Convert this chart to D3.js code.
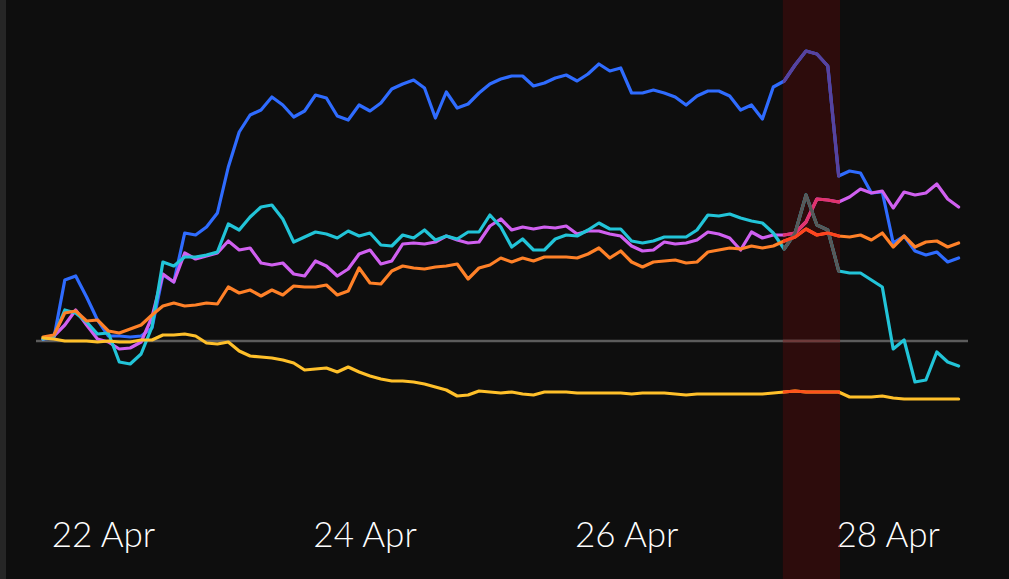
<!DOCTYPE html>
<html>
<head>
<meta charset="utf-8">
<script src="https://cdn.jsdelivr.net/npm/d3@7"></script>
<style>
  html, body { margin: 0; padding: 0; background: #0e0e0e; }
  #chart { width: 1009px; height: 579px; }
</style>
</head>
<body>
<div id="chart"></div>
<script>
// values every 2 hours, starting 21 Apr 13:00 (percent change)
const startTime = new Date(2023, 3, 21, 13);
const stepHours = 2;

const blue = [0.2,0.3,6.1,6.5,4.4,2.1,0.5,0.5,0.4,0.5,1.3,6.6,5.9,10.8,10.6,11.4,12.8,17.4,20.9,22.6,
  23.1,24.4,23.6,22.4,23.0,24.6,24.3,22.5,22.1,23.6,23.0,23.8,25.2,25.7,26.1,25.3,22.3,24.9,23.3,23.7,
  24.8,25.7,26.2,26.5,26.5,25.5,25.8,26.3,26.6,26.0,26.7,27.7,27.0,27.3,24.8,24.8,25.1,24.8,24.4,23.6,
  24.5,25.0,25.0,24.5,23.1,23.6,22.2,25.4,26.0,27.6,29.0,28.7,27.5,16.5,17.0,16.8,14.8,14.9,9.8,10.5,
  9.0,8.6,8.9,7.9,8.3];
const cyan = [0.2,0.5,3.1,2.8,1.9,0.7,0.8,-2.1,-2.3,-1.3,1.4,7.9,7.5,8.4,8.4,8.6,8.9,11.7,11.1,12.4,
  13.4,13.6,12.2,9.9,10.4,10.9,10.7,10.3,11.0,10.5,10.8,9.6,9.5,10.6,10.3,11.1,10.1,10.5,10.2,10.9,
  10.9,12.6,11.4,9.4,10.2,9.1,9.1,10.2,10.6,10.5,11.1,11.8,11.2,11.2,10.0,9.8,10.0,10.4,10.4,10.4,
  11.1,12.6,12.5,12.7,12.3,12.0,11.8,10.8,9.2,10.8,14.6,11.6,11.1,7.0,6.8,6.8,6.1,5.4,-0.8,0.1,
  -4.1,-3.9,-1.1,-2.1,-2.5];
const magenta = [0.2,0.5,1.6,3.1,1.6,0.2,-0.1,-0.8,-0.7,-0.1,2.4,6.7,5.9,8.8,8.2,8.5,8.8,10.0,9.1,9.3,
  7.8,7.6,7.8,6.7,6.5,8.0,7.5,6.5,7.2,8.7,9.1,7.7,8.0,9.7,9.8,9.7,9.9,10.5,10.1,9.8,
  9.9,11.5,12.2,11.1,11.4,11.2,11.4,11.3,11.5,10.7,11.0,11.0,10.7,10.5,9.5,9.0,9.1,9.9,9.7,9.8,
  10.1,10.9,10.7,10.3,9.1,10.9,10.3,10.6,10.6,10.8,11.9,14.2,14.1,13.9,14.4,15.2,14.8,15.0,13.3,14.9,
  14.6,14.8,15.7,14.2,13.4];
const orange = [0.4,0.6,2.8,3.0,2.0,2.1,1.0,0.8,1.2,1.6,2.6,3.5,3.8,3.5,3.6,3.8,3.7,5.4,4.8,5.1,
  4.5,5.1,4.6,5.5,5.4,5.4,5.6,4.6,5.0,7.3,5.8,5.7,7.0,7.5,7.3,7.2,7.4,7.5,7.7,6.2,
  7.3,7.6,8.3,7.9,8.3,8.0,8.4,8.4,8.4,8.3,8.7,9.3,8.3,9.0,7.9,7.4,7.9,8.0,8.1,7.8,
  7.9,8.9,9.1,9.3,9.2,9.5,9.3,9.5,10.0,10.4,11.2,10.6,10.8,10.5,10.4,10.6,10.1,10.8,9.4,10.5,
  9.4,9.9,10.0,9.4,9.8];
const yellow = [0.3,0.2,0.0,0.0,0.0,-0.1,0.0,-0.1,-0.1,0.1,0.1,0.6,0.6,0.7,0.5,-0.2,-0.3,-0.1,-1.0,-1.5,
  -1.6,-1.7,-1.9,-2.2,-2.9,-2.8,-2.7,-3.1,-2.6,-3.1,-3.5,-3.8,-4.0,-4.0,-4.1,-4.3,-4.6,-4.9,-5.5,-5.4,
  -5.0,-5.1,-5.2,-5.1,-5.3,-5.4,-5.1,-5.1,-5.1,-5.2,-5.2,-5.2,-5.2,-5.2,-5.3,-5.2,-5.2,-5.2,-5.3,-5.4,
  -5.3,-5.3,-5.3,-5.3,-5.3,-5.3,-5.3,-5.2,-5.1,-5.0,-5.1,-5.1,-5.1,-5.1,-5.6,-5.6,-5.6,-5.5,-5.7,-5.8,
  -5.8,-5.8,-5.8,-5.8,-5.8];

const seriesNames = ["blue", "magenta", "cyan", "orange", "yellow"];
const seriesValues = { blue: blue, magenta: magenta, cyan: cyan, orange: orange, yellow: yellow };
const seriesColors = { blue: "#2f6cff", magenta: "#d060f0", cyan: "#22c4d8", orange: "#ff8128", yellow: "#ffc02a" };
// how the lines look inside the highlighted window
const bandColors = { blue: "#58429f", magenta: "#e2336c", cyan: "#585858", orange: "#ff4320", yellow: "#ff521c" };

const tickDates = [new Date(2023, 3, 22), new Date(2023, 3, 24), new Date(2023, 3, 26), new Date(2023, 3, 28)];
const bandStart = new Date(2023, 3, 27, 4, 45);
const bandEnd = new Date(2023, 3, 27, 15, 15);

const width = 1009, height = 579;

const svg = d3.select("#chart").append("svg")
  .attr("width", width)
  .attr("height", height);

const n = blue.length;
const times = d3.range(n).map(i => d3.timeHour.offset(startTime, i * stepHours));

const xScale = d3.scaleTime()
  .domain([startTime, times[n - 1]])
  .range([43, 958.6]);

const yScale = d3.scaleLinear()
  .domain([-20, 35])
  .range([541, -9]);

// left edge strip
svg.append("rect")
  .attr("x", 0).attr("y", 0)
  .attr("width", 6).attr("height", height)
  .attr("fill", "#262626");

// highlighted window
svg.append("rect")
  .attr("x", xScale(bandStart))
  .attr("y", 0)
  .attr("width", xScale(bandEnd) - xScale(bandStart))
  .attr("height", height)
  .attr("fill", "#2d0c0c");

svg.append("clipPath").attr("id", "bandClip")
  .append("rect")
    .attr("x", xScale(bandStart))
    .attr("y", 0)
    .attr("width", xScale(bandEnd) - xScale(bandStart))
    .attr("height", height);

const line = d3.line()
  .x((d, i) => xScale(times[i]))
  .y(d => yScale(d));

function drawAll(g, colors, zeroColor, textColor) {
  // zero line
  g.append("line")
    .attr("x1", 36).attr("x2", 968)
    .attr("y1", yScale(0)).attr("y2", yScale(0))
    .attr("stroke", zeroColor)
    .attr("stroke-width", 2.5);

  seriesNames.forEach(name => {
    g.append("path")
      .datum(seriesValues[name])
      .attr("d", line)
      .attr("fill", "none")
      .attr("stroke", colors[name])
      .attr("stroke-width", 3.2)
      .attr("stroke-linejoin", "round")
      .attr("stroke-linecap", "round");
  });

  // x axis labels
  const axis = g.append("g")
    .attr("transform", "translate(0,547)")
    .call(d3.axisBottom(xScale)
      .tickValues(tickDates)
      .tickFormat(d3.timeFormat("%-d %b"))
      .tickSize(0)
      .tickPadding(0));
  axis.select(".domain").remove();
  axis.selectAll("text")
    .attr("y", 0)
    .attr("dy", null)
    .attr("fill", textColor)
    .style("font-family", "Lato, 'Open Sans', sans-serif")
    .style("font-weight", 300)
    .style("font-size", "35px");
}

drawAll(svg.append("g"), seriesColors, "#5c5c5c", "#ffffff");
drawAll(svg.append("g").attr("clip-path", "url(#bandClip)"), bandColors, "#6e3a3a", "#ff6b6b");
</script>
</body>
</html>
